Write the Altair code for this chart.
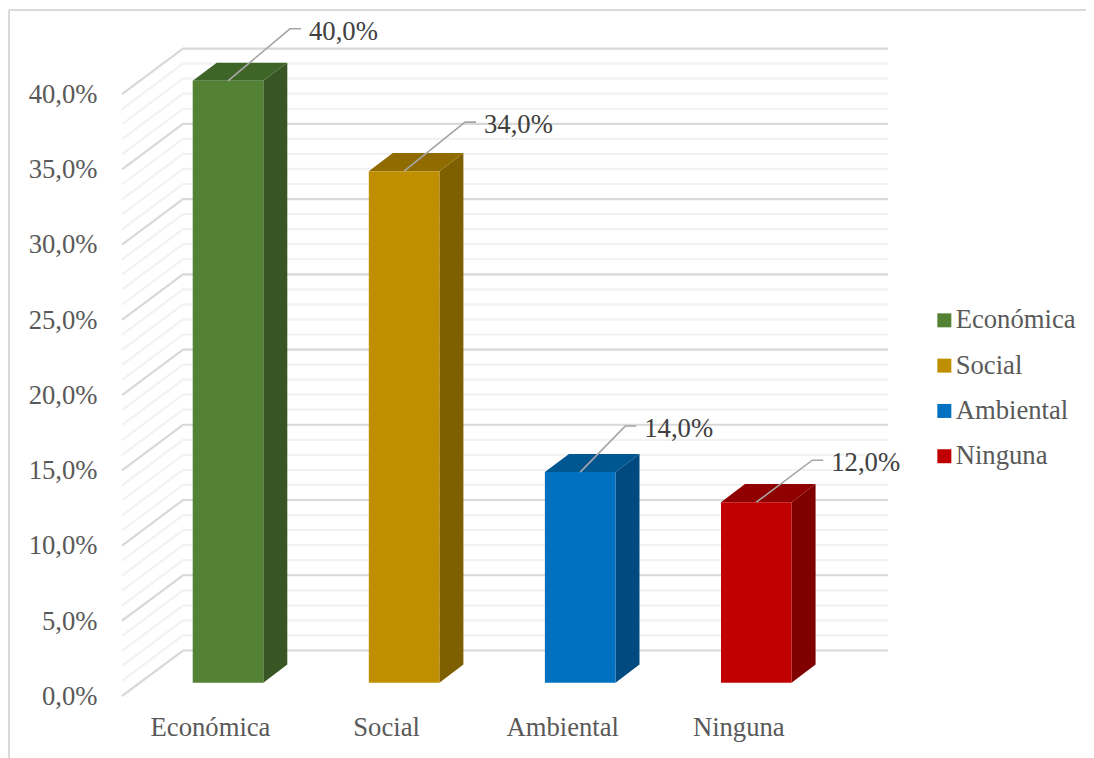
import altair as alt
import pandas as pd

categories = ["Económica", "Social", "Ambiental", "Ninguna"]
values = [40.0, 34.0, 14.0, 12.0]
front_colors = ["#548235", "#BF8F00", "#0070C0", "#C00000"]
top_colors = ["#3F6428", "#8F6B00", "#005690", "#900000"]
side_colors = ["#375623", "#7F6000", "#004A80", "#800000"]
major_ticks = [0, 5, 10, 15, 20, 25, 30, 35, 40]
minor_ticks = [v for v in range(0, 40) if v % 5 != 0]
# leader elbow displacement from the bar's top centre, in axis units
elbow_dx = [0.352, 0.346, 0.256, 0.318]
elbow_dy = [3.46, 3.26, 3.06, 2.79]

FONT = "Liberation Serif"
PX_X, PX_Y = 176.1, 15.05           # pixels per category, pixels per 1 %
X_DOM = [-0.602, 3.748]
Y_DOM = [0.0, 43.06]
WALL_DX, WALL_DY = 61 / PX_X, 45.5 / PX_Y
BAR_HALF = 35.3 / PX_X
BAR_BASE = 13.2 / PX_Y
BAR_DX, BAR_DY = 24 / PX_X, 18.2 / PX_Y
STUB = 11 / PX_X

xs = alt.Scale(domain=X_DOM, nice=False, zero=False)
ys = alt.Scale(domain=Y_DOM, nice=False, zero=False)
label_js = "[" + ",".join(f"'{c}'" for c in categories) + "]"
x_axis = alt.Axis(
    values=[0, 1, 2, 3], labelExpr=f"{label_js}[datum.value]", grid=False, domain=False,
    ticks=False, labelFont=FONT, labelFontSize=26.67, labelColor="#595959",
    labelPadding=18, labelOffset=-18, labelFlush=False, labelOverlap=False)
y_axis = alt.Axis(
    values=major_ticks, labelExpr="replace(format(datum.value,'.1f'),'.',',')+'%'",
    grid=False, domain=False, ticks=False, labelFont=FONT, labelFontSize=26.67,
    labelColor="#595959", labelPadding=25, labelOffset=0.3, labelFlush=False,
    labelOverlap=False)
X = lambda f="x": alt.X(f"{f}:Q", scale=xs, axis=x_axis, title=None)
Y = lambda f="y": alt.Y(f"{f}:Q", scale=ys, axis=y_axis, title=None)


def wall_lines(ticks, color):
    rows = []
    for v in ticks:
        rows += [
            {"x": X_DOM[0], "y": v, "t": v},
            {"x": X_DOM[0] + WALL_DX, "y": v + WALL_DY, "t": v},
            {"x": X_DOM[1], "y": v + WALL_DY, "t": v},
        ]
    return alt.Chart(pd.DataFrame(rows)).mark_line(color=color, strokeWidth=2.2).encode(
        x=X(), y=Y(), detail="t:N"
    )


# Outer chart frame
fx0 = X_DOM[0] - 113 / PX_X
fx1 = X_DOM[0] + 972 / PX_X
fy1 = Y_DOM[1] + 38 / PX_Y
fy0 = -62 / PX_Y
frame = alt.Chart(pd.DataFrame([
    {"x": fx0, "x2": fx0, "y": fy0, "y2": fy1},
    {"x": fx0, "x2": fx1, "y": fy1, "y2": fy1},
])).mark_rule(color="#D9D9D9", strokeWidth=2).encode(x=X(), x2="x2:Q", y=Y(), y2="y2:Q")

layers = [frame, wall_lines(minor_ticks, "#F2F2F2"), wall_lines(major_ticks, "#D9D9D9")]

# Bars
bars = pd.DataFrame({
    "cat": categories,
    "x": [i - BAR_HALF for i in range(4)],
    "x2": [i + BAR_HALF for i in range(4)],
    "y": [v + BAR_BASE for v in values],
    "y2": [BAR_BASE] * 4,
})
for i, cat in enumerate(categories):
    top = bars.y[i]
    l, r = bars.x[i], bars.x2[i]
    side = pd.DataFrame({"x": [r, r + BAR_DX], "y": [top, top + BAR_DY],
                         "y2": [BAR_BASE, BAR_BASE + BAR_DY]})
    layers.append(alt.Chart(side).mark_area(color=side_colors[i], orient="vertical").encode(
        x=X(), y=Y(), y2="y2:Q"))
    cap = pd.DataFrame({"y": [top, top + BAR_DY], "x": [l, l + BAR_DX], "x2": [r, r + BAR_DX]})
    layers.append(alt.Chart(cap).mark_area(color=top_colors[i], orient="horizontal").encode(
        x=X(), x2="x2:Q", y=Y()))

layers.append(alt.Chart(bars).mark_rect().encode(
    x=X(), x2="x2:Q", y=Y(), y2="y2:Q",
    color=alt.Color("cat:N", scale=alt.Scale(domain=categories, range=front_colors),
                    sort=categories,
                    legend=alt.Legend(
                        title=None, orient="none", legendX=809, legendY=259, padding=0,
                        symbolType="square", symbolSize=196, symbolStrokeWidth=0,
                        labelFont=FONT, labelFontSize=26.67, labelColor="#595959",
                        labelOffset={"expr": "-2"}, rowPadding=17.3, labelLimit=200)),
))

# Leader lines and data labels
rows, labels = [], []
for i, v in enumerate(values):
    bx, by = i, v + BAR_BASE
    ex, ey = i + elbow_dx[i], by + elbow_dy[i]
    rows += [{"x": bx, "y": by, "c": i}, {"x": ex, "y": ey, "c": i}, {"x": ex + STUB, "y": ey, "c": i}]
    labels.append({"x": ex + STUB, "y": ey, "t": f"{v:.1f}".replace(".", ",") + "%"})
layers.append(alt.Chart(pd.DataFrame(rows)).mark_line(color="#A6A6A6", strokeWidth=1.6).encode(
    x=X(), y=Y(), detail="c:N"))
layers.append(alt.Chart(pd.DataFrame(labels)).mark_text(
    font=FONT, fontSize=26.67, color="#404040", align="left", baseline="middle", dx=8, dy=3
).encode(x=X(), y=Y(), text="t:N"))

chart = alt.layer(*layers).properties(
    width=766, height=648,
    autosize=alt.AutoSizeParams(type="none"),
    padding={"left": 114, "top": 40, "right": 198, "bottom": 62},
    background="white",
).configure_view(strokeWidth=0)

chart.save("out.html", embed_options={"renderer": "svg", "actions": False})
